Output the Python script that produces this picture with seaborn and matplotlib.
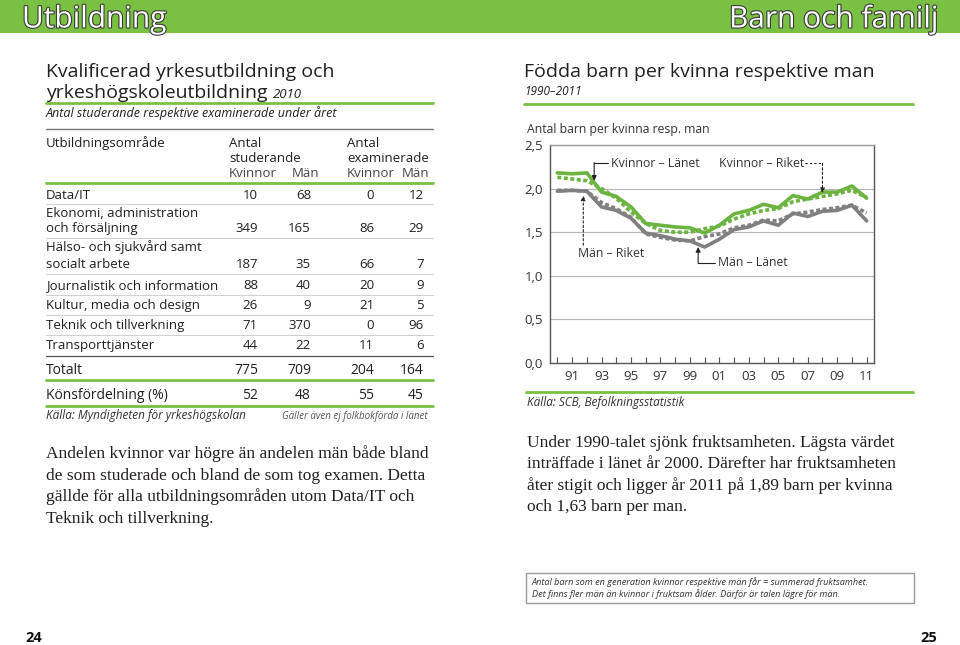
import matplotlib
matplotlib.use('Agg')
import matplotlib.pyplot as plt
import matplotlib.patheffects as pe
from matplotlib.patches import Rectangle
from matplotlib.lines import Line2D
import seaborn as sns
import pandas as pd

# ---------------- data ----------------
years = list(range(1990, 2012))
kvinnor_lanet = [2.18, 2.17, 2.18, 1.96, 1.91, 1.79, 1.60, 1.58, 1.56, 1.55, 1.49, 1.58,
                 1.71, 1.75, 1.82, 1.78, 1.92, 1.88, 1.96, 1.96, 2.03, 1.89]
kvinnor_riket = [2.13, 2.11, 2.09, 2.00, 1.89, 1.73, 1.60, 1.52, 1.50, 1.50, 1.54, 1.57,
                 1.65, 1.71, 1.75, 1.77, 1.85, 1.88, 1.91, 1.94, 1.98, 1.90]
man_riket = [1.98, 1.98, 1.97, 1.84, 1.77, 1.67, 1.48, 1.44, 1.41, 1.40, 1.45, 1.48,
             1.55, 1.58, 1.64, 1.63, 1.71, 1.73, 1.76, 1.78, 1.81, 1.72]
man_lanet = [1.97, 1.98, 1.97, 1.79, 1.75, 1.66, 1.49, 1.46, 1.42, 1.40, 1.33, 1.42,
             1.53, 1.56, 1.63, 1.58, 1.72, 1.68, 1.74, 1.75, 1.81, 1.63]
xtick_years = list(range(1991, 2012, 2))
xtick_labels = ['91', '93', '95', '97', '99', '01', '03', '05', '07', '09', '11']
yticks = [0.0, 0.5, 1.0, 1.5, 2.0, 2.5]
ytick_labels = ['0,0', '0,5', '1,0', '1,5', '2,0', '2,5']

table_areas = [['Data/IT'],
               ['Ekonomi, administration', 'och försäljning'],
               ['Hälso- och sjukvård samt', 'socialt arbete'],
               ['Journalistik och information'],
               ['Kultur, media och design'],
               ['Teknik och tillverkning'],
               ['Transporttjänster']]
stud_kvinnor = [10, 349, 187, 88, 26, 71, 44]
stud_man = [68, 165, 35, 40, 9, 370, 22]
exam_kvinnor = [0, 86, 66, 20, 21, 0, 11]
exam_man = [12, 29, 7, 9, 5, 96, 6]
totalt = [775, 709, 204, 164]
konsfordelning = [52, 48, 55, 45]

# ---------------- page ----------------
W, H = 960, 645
sns.set_theme(style='white')
plt.rcParams['font.family'] = ['Open Sans', 'DejaVu Sans']
fig = plt.figure(figsize=(W / 100, H / 100), dpi=100)
fig.patch.set_facecolor('white')

GREEN = '#7ac143'
LGREEN = '#6cb43f'
GRAY = '#808080'
TXT = '#231f20'


def T(x, y, s, size=9.5, ha='left', va='baseline', **kw):
    kw.setdefault('color', TXT)
    return fig.text(x / W, 1 - y / H, s, fontsize=size, ha=ha, va=va, **kw)


def HL(x0, x1, y, color=GREEN, lw=2.0):
    fig.add_artist(Line2D([x0 / W, x1 / W], [1 - y / H, 1 - y / H], color=color,
                          lw=lw, transform=fig.transFigure))


# header band
fig.add_artist(Rectangle((0, 1 - 33 / H), 1, 33 / H, transform=fig.transFigure,
                         color=GREEN, lw=0))
outline = [pe.withStroke(linewidth=1.6, foreground='#3a3a3a')]
T(22, 27.5, 'Utbildning', size=21.5, color='white', path_effects=outline)
T(938, 27.5, 'Barn och familj', size=21.5, ha='right', color='white', path_effects=outline)

# ---------------- left: table ----------------
T(46, 77, 'Kvalificerad yrkesutbildning och', size=14)
t = T(46, 98, 'yrkeshögskoleutbildning ', size=14)
fig.canvas.draw()
bb = t.get_window_extent()
T(bb.x1, 98, '2010', size=9.5, style='italic')
HL(46, 433, 102.5)
T(46, 117, 'Antal studerande respektive examinerade under året', size=9, style='italic')
HL(46, 433, 129, color='#777777', lw=1.0)

T(46, 147, 'Utbildningsområde', size=9.5)
T(229, 147, 'Antal', size=9.5)
T(229, 162, 'studerande', size=9.5)
T(229, 177, 'Kvinnor', size=9.5, color='#444444')
T(319, 177, 'Män', size=9.5, ha='right', color='#444444')
T(347, 147, 'Antal', size=9.5)
T(347, 162, 'examinerade', size=9.5)
T(347, 177, 'Kvinnor', size=9.5, color='#444444')
T(429, 177, 'Män', size=9.5, ha='right', color='#444444')
HL(46, 433, 182.5)

col_x = [258, 311, 374, 424]
row_base = [199, 232, 268, 289, 309, 329, 349]
row_top_first = [199, 217, 251, 289, 309, 329, 349]
sep_y = [204, 238, 274, 295, 315, 335]
for i, lines in enumerate(table_areas):
    if len(lines) == 2:
        T(46, row_top_first[i], lines[0])
        T(46, row_base[i], lines[1])
    else:
        T(46, row_base[i], lines[0])
    for cx, v in zip(col_x, [stud_kvinnor[i], stud_man[i], exam_kvinnor[i], exam_man[i]]):
        T(cx, row_base[i], str(v), ha='right')
for y in sep_y:
    HL(46, 433, y, color='#c9c9c9', lw=0.6)
HL(46, 433, 356, color='#555555', lw=0.9)
T(46, 374, 'Totalt', size=10)
for cx, v in zip(col_x, totalt):
    T(cx, 374, str(v), ha='right', size=10)
HL(46, 433, 380)
T(46, 399, 'Könsfördelning (%)', size=10)
for cx, v in zip(col_x, konsfordelning):
    T(cx, 399, str(v), ha='right', size=10)
HL(46, 433, 405.5)
T(46, 419, 'Källa: Myndigheten för yrkeshögskolan', size=8.5, style='italic', color='#333333')
T(428, 419, 'Gäller även ej folkbokförda i länet', size=7, style='italic', ha='right',
  color='#555555')

serif = ['Liberation Serif', 'DejaVu Serif']
left_par = ['Andelen kvinnor var högre än andelen män både bland',
            'de som studerade och bland de som tog examen. Detta',
            'gällde för alla utbildningsområden utom Data/IT och',
            'Teknik och tillverkning.']
for i, s in enumerate(left_par):
    T(46, 458 + i * 21.6, s, size=12.5, family=serif)

# ---------------- right: chart ----------------
T(524, 77, 'Födda barn per kvinna respektive man', size=14)
T(524, 95, '1990–2011', size=8.5, style='italic')
HL(524, 913, 103.5)
T(527, 133, 'Antal barn per kvinna resp. man', size=8.8, color='#333333')

ax_l, ax_r, ax_t, ax_b = 550, 874, 145, 363
ax = fig.add_axes([ax_l / W, 1 - ax_b / H, (ax_r - ax_l) / W, (ax_b - ax_t) / H])

df = pd.DataFrame({'year': years * 4,
                   'value': man_lanet + man_riket + kvinnor_lanet + kvinnor_riket,
                   'serie': (['Män – Länet'] * len(years) + ['Män – Riket'] * len(years) +
                             ['Kvinnor – Länet'] * len(years) + ['Kvinnor – Riket'] * len(years))})
styles = {'Män – Riket': (GRAY, (0, (1.1, 0.7))),
          'Män – Länet': (GRAY, '-'),
          'Kvinnor – Riket': (LGREEN, (0, (1.1, 0.7))),
          'Kvinnor – Länet': (LGREEN, '-')}
for name in ['Män – Riket', 'Män – Länet', 'Kvinnor – Riket', 'Kvinnor – Länet']:
    col, ls = styles[name]
    sub = df[df['serie'] == name]
    sns.lineplot(data=sub, x='year', y='value', ax=ax, color=col, lw=2.6,
                 linestyle=ls, legend=False)

ax.set_xlim(1989.5, 2011.5)
ax.set_ylim(0, 2.5)
ax.set_xlabel('')
ax.set_ylabel('')
ax.set_yticks(yticks)
ax.set_yticklabels(ytick_labels)
ax.set_xticks(xtick_years)
ax.set_xticklabels(xtick_labels)
ax.set_xticks(years, minor=True)
ax.tick_params(axis='x', which='both', direction='in', length=4, width=0.8,
               color='#555555', bottom=True, labelsize=9.5, pad=5, labelcolor='#333333')
ax.tick_params(axis='y', length=0, labelsize=9.5, pad=5, labelcolor='#333333')
for s in ['left', 'right', 'bottom', 'top']:
    ax.spines[s].set_color('#555555')
    ax.spines[s].set_linewidth(1.0)
ax.spines['top'].set_color('#999999')
for yv in [0.5, 1.0, 1.5, 2.0]:
    ax.axhline(yv, color='#b5b5b5', lw=0.8, zorder=0)

# annotations
ann = dict(fontsize=8.8, color='#333333', va='center', ha='left')
ax.text(1993.66, 2.29, 'Kvinnor – Länet', **ann)
ax.plot([1993.45, 1992.5], [2.29, 2.29], color='#222222', lw=0.8)
ax.annotate('', xy=(1992.5, 2.09), xytext=(1992.5, 2.30),
            arrowprops=dict(arrowstyle='-|>', color='#222222', lw=0.8,
                            mutation_scale=7, shrinkA=0, shrinkB=0))
ax.text(2000.98, 2.29, 'Kvinnor – Riket', **ann)
ax.plot([2006.8, 2008.0], [2.29, 2.29], color='#222222', lw=0.8, ls=(0, (2, 2)))
ax.annotate('', xy=(2008.0, 1.95), xytext=(2008.0, 2.29),
            arrowprops=dict(arrowstyle='-|>', color='#222222', lw=0.8, ls=(0, (2, 2)),
                            mutation_scale=7, shrinkA=0, shrinkB=0))
ax.text(1991.42, 1.25, 'Män – Riket', **ann)
ax.annotate('', xy=(1991.76, 1.92), xytext=(1991.76, 1.35),
            arrowprops=dict(arrowstyle='-|>', color='#222222', lw=0.8, ls=(0, (2, 2)),
                            mutation_scale=7, shrinkA=0, shrinkB=0))
ax.text(2000.9, 1.147, 'Män – Länet', **ann)
ax.plot([2000.72, 1999.56], [1.147, 1.147], color='#222222', lw=0.8)
ax.annotate('', xy=(1999.56, 1.33), xytext=(1999.56, 1.14),
            arrowprops=dict(arrowstyle='-|>', color='#222222', lw=0.8,
                            mutation_scale=7, shrinkA=0, shrinkB=0))

HL(526, 913, 391.5)
T(527, 406, 'Källa: SCB, Befolkningsstatistik', size=8.5, style='italic', color='#333333')

right_par = ['Under 1990-talet sjönk fruktsamheten. Lägsta värdet',
             'inträffade i länet år 2000. Därefter har fruktsamheten',
             'åter stigit och ligger år 2011 på 1,89 barn per kvinna',
             'och 1,63 barn per man.']
for i, s in enumerate(right_par):
    T(527, 447 + i * 21.4, s, size=12.5, family=serif)

fig.add_artist(Rectangle((526 / W, 1 - 603 / H), (914 - 526) / W, 30 / H,
                         transform=fig.transFigure, fill=False, ec='#9a9a9a', lw=1.0))
T(532, 585, 'Antal barn som en generation kvinnor respektive män får = summerad fruktsamhet.',
  size=6.6, style='italic', color='#333333')
T(532, 597, 'Det finns fler män än kvinnor i fruktsam ålder. Därför är talen lägre för män.',
  size=6.6, style='italic', color='#333333')

T(25, 642, '24', size=10.5, weight='bold', color='#111111')
T(937, 642, '25', size=10.5, weight='bold', ha='right', color='#111111')

fig.savefig('out.png', dpi=100, facecolor='white')
